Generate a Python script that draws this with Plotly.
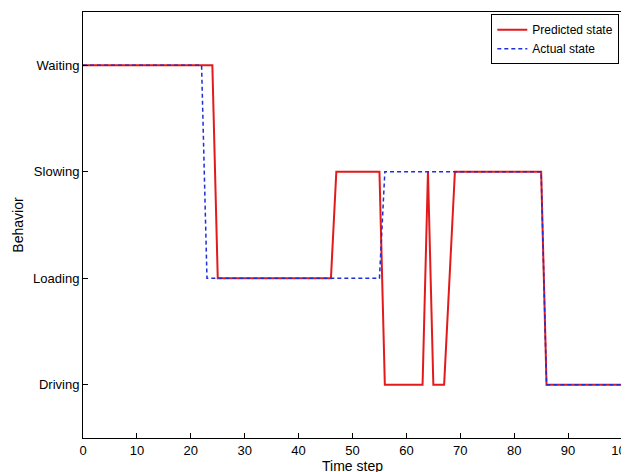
import plotly.graph_objects as go

behaviors = ["Driving", "Loading", "Slowing", "Waiting"]
pred_t = [0, 24, 25, 46, 47, 55, 56, 63, 64, 65, 67, 69, 85, 86, 100]
pred_state = ["Waiting", "Waiting", "Loading", "Loading", "Slowing", "Slowing", "Driving", "Driving",
              "Slowing", "Driving", "Driving", "Slowing", "Slowing", "Driving", "Driving"]
act_t = [0, 22, 23, 55, 56, 85, 86, 100]
act_state = ["Waiting", "Waiting", "Loading", "Loading", "Slowing", "Slowing", "Driving", "Driving"]

idx = {b: i + 1 for i, b in enumerate(behaviors)}

fig = go.Figure()
fig.add_trace(go.Scatter(x=pred_t, y=[idx[s] for s in pred_state], mode="lines",
                         name="Predicted state", line=dict(color="#e31a1c", width=2)))
fig.add_trace(go.Scatter(x=act_t, y=[idx[s] for s in act_state], mode="lines",
                         name="Actual state", line=dict(color="#1f2fd6", width=1.5, dash="4px,3px")))

axis = dict(showline=True, mirror=True, linecolor="black", linewidth=1, ticks="inside",
            ticklen=5, tickcolor="black", showgrid=False, zeroline=False, automargin=False,
            tickfont=dict(size=13, color="black"))
fig.update_layout(
    width=629, height=472, paper_bgcolor="white", plot_bgcolor="white",
    margin=dict(l=75, r=15, t=4, b=42, autoexpand=False),
    font=dict(family="Liberation Sans, Arial", color="black"),
    xaxis=dict(range=[0, 100], dtick=10, title=dict(text="Time step", font=dict(size=14), standoff=2), **axis),
    yaxis=dict(range=[0.5, 4.5], tickvals=[1, 2, 3, 4], ticktext=behaviors,
               title=dict(text="Behavior", font=dict(size=14), standoff=6), **axis),
    legend=dict(x=0.995, y=0.995, xanchor="right", yanchor="top", bgcolor="white",
                bordercolor="black", borderwidth=1, font=dict(size=12), tracegroupgap=0),
    showlegend=True,
)
fig.write_html("out.html")
